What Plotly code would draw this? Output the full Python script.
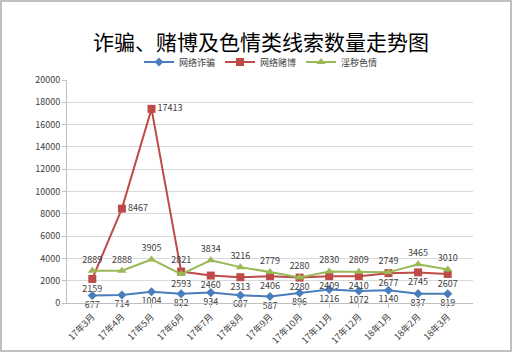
import plotly.graph_objects as go

months = ["17年3月", "17年4月", "17年5月", "17年6月", "17年7月", "17年8月", "17年9月",
          "17年10月", "17年11月", "17年12月", "18年1月", "18年2月", "18年3月"]
fraud = [677, 714, 1004, 822, 934, 687, 587, 896, 1216, 1072, 1140, 837, 819]
gambling = [2159, 8467, 17413, 2821, 2460, 2313, 2406, 2280, 2409, 2410, 2677, 2745, 2607]
porn = [2889, 2888, 3905, 2593, 3834, 3216, 2779, 2280, 2830, 2809, 2749, 3465, 3010]
series_names = ["网络诈骗", "网络赌博", "淫秽色情"]

W, H = 530, 353
L, R, T, B = 67, 57, 80, 50
pw, ph = W - L - R, H - T - B

font = "Noto Sans CJK SC, Microsoft YaHei, sans-serif"
lblfont = dict(family=font, size=9, color="#404040")

red_pos = ["bottom center", "middle right", "middle right", "top center"] + ["bottom center"] * 9
green_pos = ["top center"] * 3 + ["bottom center"] + ["top center"] * 9

fig = go.Figure()
fig.add_trace(go.Scatter(x=months, y=fraud, name=series_names[0], mode="lines+markers+text",
                         line=dict(color="#4A7EBB", width=2),
                         marker=dict(symbol="diamond", size=7, color="#4A7EBB"),
                         text=[str(v) for v in fraud], textposition="bottom center",
                         textfont=lblfont, cliponaxis=False))
fig.add_trace(go.Scatter(x=months, y=gambling, name=series_names[1], mode="lines+markers+text",
                         line=dict(color="#BE4B48", width=2),
                         marker=dict(symbol="square", size=8, color="#BE4B48"),
                         text=[str(v) for v in gambling], textposition=red_pos,
                         textfont=lblfont, cliponaxis=False))
fig.add_trace(go.Scatter(x=months, y=porn, name=series_names[2], mode="lines+markers+text",
                         line=dict(color="#98B954", width=2),
                         marker=dict(symbol="triangle-up", size=8, color="#98B954"),
                         text=[str(v) for v in porn], textposition=green_pos,
                         textfont=lblfont, cliponaxis=False))

def px(x):
    return (x - L) / pw

def py(y):
    return (H - B - y) / ph

fig.update_layout(
    width=W, height=H,
    margin=dict(l=L, r=R, t=T, b=B, autoexpand=False),
    paper_bgcolor="white", plot_bgcolor="white",
    font=dict(family=font, color="#404040"),
    title=dict(text="诈骗、赌博及色情类线索数量走势图", x=261 / W, xanchor="center",
               y=1 - 43 / H, yanchor="middle",
               font=dict(family=font, size=21, color="#000000")),
    legend=dict(orientation="h", x=261 / W, xref="container", xanchor="center",
                y=1 - 62 / H, yref="container", yanchor="middle",
                font=dict(family=font, size=9, color="#404040"),
                itemwidth=30, bgcolor="rgba(0,0,0,0)"),
    showlegend=True,
    xaxis=dict(type="category", tickangle=-45, showgrid=False, automargin=False,
               showline=True, linecolor="#BFBFBF", linewidth=1,
               ticks="outside", tickcolor="#BFBFBF", ticklen=4,
               tickfont=dict(family=font, size=9, color="#404040")),
    yaxis=dict(range=[0, 20000], dtick=2000, tickformat="d", showgrid=True,
               gridcolor="#D9D9D9", automargin=False,
               gridwidth=1, showline=True, linecolor="#BFBFBF", linewidth=1,
               ticks="outside", tickcolor="#BFBFBF", ticklen=4, zeroline=False,
               tickfont=dict(family=font, size=9, color="#404040")),
    shapes=[dict(type="rect", xref="paper", yref="paper",
                 x0=px(1), x1=px(511), y0=py(351), y1=py(1),
                 line=dict(color="#BFBFBF", width=2), fillcolor="rgba(0,0,0,0)",
                 layer="below")],
)

fig.write_html("out.html")
